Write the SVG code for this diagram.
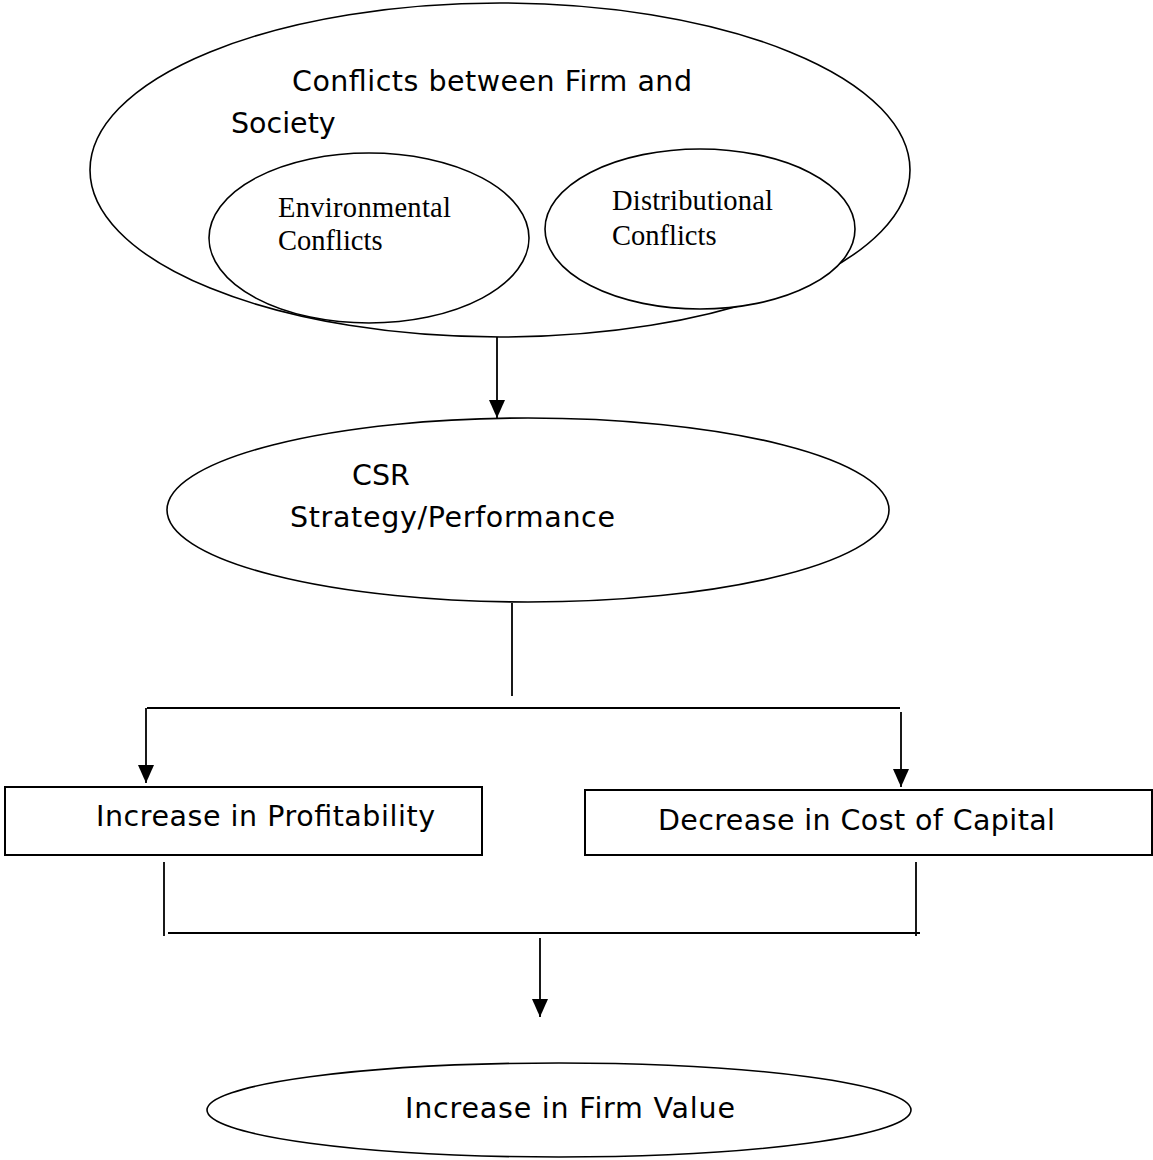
<svg xmlns="http://www.w3.org/2000/svg" width="1153" height="1160" viewBox="0 0 1153 1160">
<style>
.shape{fill:#fff;stroke:#000;stroke-width:1.6}
.box{fill:#fff;stroke:#000;stroke-width:2}
.line{fill:none;stroke:#000;stroke-width:1.8}
.sans{font-family:"DejaVu Sans","Verdana",sans-serif;font-size:28.5px;fill:#000}
.serif{font-family:"Liberation Serif","Times New Roman",serif;font-size:28.5px;fill:#000}
</style>
<defs>
<marker id="ah" viewBox="0 0 18 16" refX="18" refY="8" markerWidth="18" markerHeight="16" markerUnits="userSpaceOnUse" orient="auto">
<path d="M0,0 L18,8 L0,16 Z" fill="#000"/>
</marker>
</defs>
<rect width="1153" height="1160" fill="#fff"/>
<g id="conflicts">
<ellipse class="shape" cx="500" cy="170" rx="410" ry="167"/>
<text class="sans" x="292" y="91" textLength="400">Conflicts between Firm and</text>
<text class="sans" x="231" y="133">Society</text>
</g>
<g id="environmental">
<ellipse class="shape" cx="369" cy="238" rx="160" ry="85"/>
<text class="serif" x="278" y="217" textLength="173">Environmental</text>
<text class="serif" x="278" y="250">Conflicts</text>
</g>
<g id="distributional">
<ellipse class="shape" cx="700" cy="229" rx="155" ry="80"/>
<text class="serif" x="612" y="210" textLength="161">Distributional</text>
<text class="serif" x="612" y="245">Conflicts</text>
</g>
<g id="csr">
<ellipse class="shape" cx="528" cy="510" rx="361" ry="92"/>
<text class="sans" x="352" y="485">CSR</text>
<text class="sans" x="290" y="527" textLength="325">Strategy/Performance</text>
</g>
<g id="profitability">
<rect class="box" x="5" y="787" width="477" height="68"/>
<text class="sans" x="96" y="826" textLength="339">Increase in Profitability</text>
</g>
<g id="costcapital">
<rect class="box" x="585" y="790" width="567" height="65"/>
<text class="sans" x="658" y="830" textLength="397">Decrease in Cost of Capital</text>
</g>
<g id="firmvalue">
<ellipse class="shape" cx="559" cy="1110" rx="352" ry="47"/>
<text class="sans" x="405" y="1118" textLength="330">Increase in Firm Value</text>
</g>
<g id="connectors">
<line class="line" x1="497" y1="337" x2="497" y2="418" marker-end="url(#ah)"/>
<line class="line" x1="512" y1="603" x2="512" y2="696"/>
<line class="line" x1="147" y1="708" x2="900" y2="708"/>
<line class="line" x1="146" y1="708" x2="146" y2="783" marker-end="url(#ah)"/>
<line class="line" x1="901" y1="712" x2="901" y2="787" marker-end="url(#ah)"/>
<line class="line" x1="164" y1="862" x2="164" y2="936"/>
<line class="line" x1="916" y1="862" x2="916" y2="936"/>
<line class="line" x1="168" y1="933" x2="920" y2="933"/>
<line class="line" x1="540" y1="938" x2="540" y2="1017" marker-end="url(#ah)"/>
</g>
</svg>
